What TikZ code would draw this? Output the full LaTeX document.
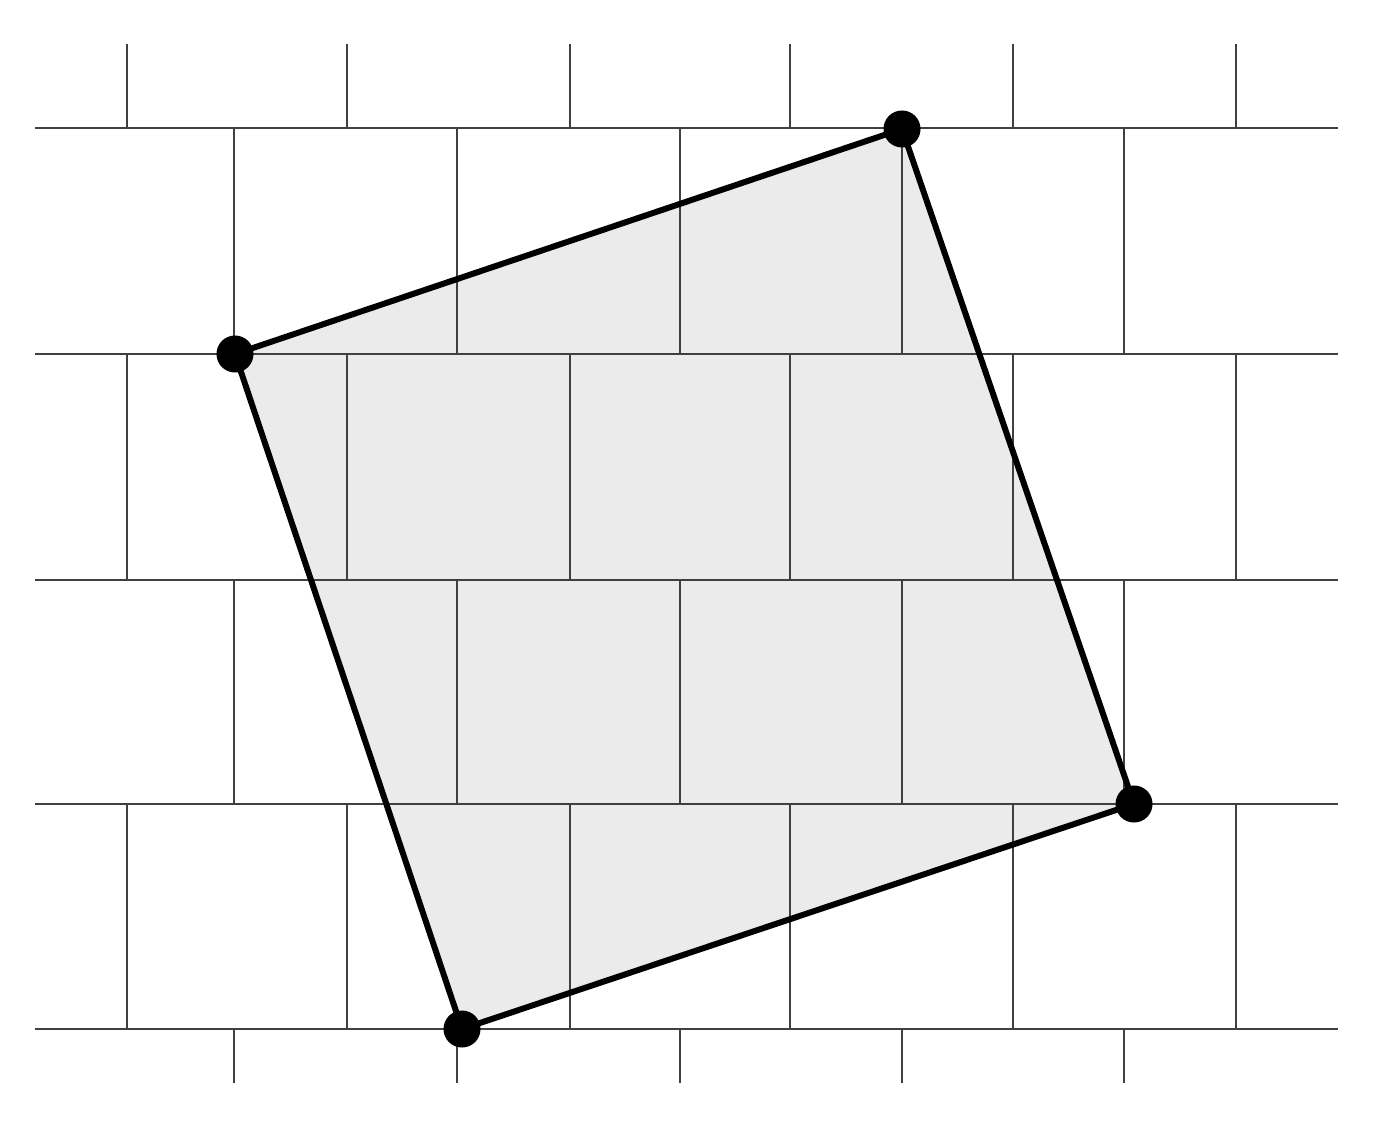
\documentclass[tikz,border=0pt]{standalone}
\usepackage{tikz}
\usetikzlibrary{calc}
\tikzset{
  gridline/.style={line width=0.7pt, color=black!75},
  edge/.style={line width=1.7pt, line join=round},
  vdot/.style={circle, fill=black, inner sep=0pt, minimum size=0.37cm}
}
\begin{document}
\begin{tikzpicture}[x=0.01cm,y=-0.01cm]
        \useasboundingbox (0,0) rectangle (1398,1125);
        % corners of the tilted square
        \coordinate (A) at (235,354);
        \coordinate (B) at (902,129);
        \coordinate (C) at (1134,804);
        \coordinate (D) at (462,1029);
        \fill[black!8] (A) -- (B) -- (C) -- (D) -- cycle;
        % bricks
        \foreach \y in {128, 354, 580, 804, 1029}
        \draw[gridline] (35,\y) -- (1338,\y);
        \foreach \x in {127, 347, 570, 790, 1013, 1236}
        {
        \draw[gridline] (\x,44) -- (\x,128);
        \draw[gridline] (\x,354) -- (\x,580);
        \draw[gridline] (\x,804) -- (\x,1029);
        }
        \foreach \x in {234, 457, 680, 902, 1124}
        {
        \draw[gridline] (\x,128) -- (\x,354);
        \draw[gridline] (\x,580) -- (\x,804);
        \draw[gridline] (\x,1029) -- (\x,1083);
        }
        \draw[edge] (A) -- (B) -- (C) -- (D) -- cycle;
        \node[vdot] (a) at (A) {};
        \node[vdot] (b) at (B) {};
        \node[vdot] (c) at (C) {};
        \node[vdot] (d) at (D) {};
\end{tikzpicture}
\end{document}
